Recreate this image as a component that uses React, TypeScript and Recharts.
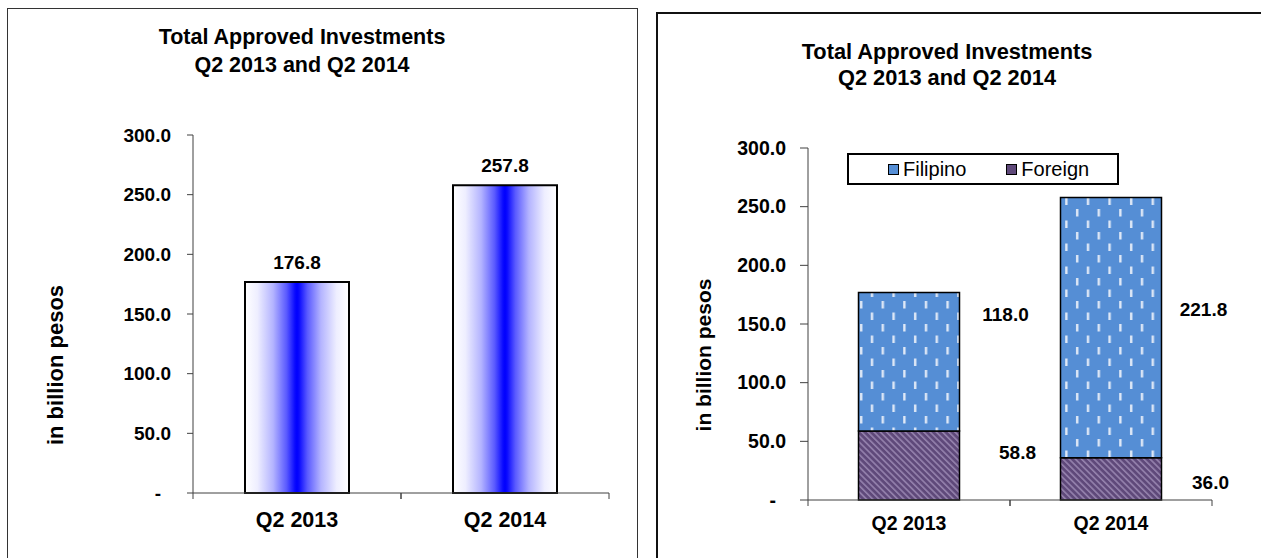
import React from 'react'
import { BarChart, Bar, XAxis, YAxis, LabelList, Legend, Label } from 'recharts'

// values (billion pesos)
const QUARTERS = ['Q2 2013', 'Q2 2014']
const TOTAL = [176.8, 257.8]
const FILIPINO = [118.0, 221.8]
const FOREIGN = [58.8, 36.0]
const Y_TICKS = [0, 50, 100, 150, 200, 250, 300]
const SERIES_NAMES = ['Filipino', 'Foreign']

const TITLE_1 = 'Total Approved Investments'
const TITLE_2 = 'Q2 2013 and Q2 2014'
const Y_TITLE = 'in billion pesos'

const FONT = 'Arial, "Liberation Sans", sans-serif'
const AXIS_COLOR = '#404040'
const FILIPINO_BLUE = '#558ed5'
const FOREIGN_PURPLE = '#5f497a'

const totalData = QUARTERS.map((q, i) => ({ quarter: q, total: TOTAL[i] }))
const splitData = QUARTERS.map((q, i) => ({
  quarter: q,
  filipino: FILIPINO[i],
  foreign: FOREIGN[i],
}))

const Y_AXIS_W = 100
const X_AXIS_H = 40

// left chart geometry
const L_W = 640
const L_H = 558
const L_MARGIN = { top: 135, right: 31, bottom: 25, left: 93 }
const L_HALF_BAND = (L_W - L_MARGIN.left - L_MARGIN.right - Y_AXIS_W) / QUARTERS.length / 2

// right chart geometry
const R_W = 621
const R_H = 558
const R_MARGIN = { top: 148, right: 49, bottom: 18, left: 68 }
const R_HALF_BAND = (R_W - R_MARGIN.left - R_MARGIN.right - Y_AXIS_W) / QUARTERS.length / 2

// manual nudges of the stacked data labels (Excel-style hand placement)
const FILIPINO_NUDGE = [
  { dx: 46, dy: 22 },
  { dx: 42, dy: 112 },
]
const FOREIGN_NUDGE = [
  { dx: 58, dy: 21 },
  { dx: 49, dy: 25 },
]

const fmt = (v: number) => Number(v).toFixed(1)

function yTick(fontSize: number) {
  return (p: any) => {
    const v = p.payload.value
    return (
      <text
        x={v === 0 ? p.x - 10 : p.x}
        y={p.y}
        dy="0.35em"
        textAnchor="end"
        fontFamily={FONT}
        fontWeight="bold"
        fontSize={fontSize}
        fill="#000"
      >
        {v === 0 ? '-' : fmt(v)}
      </text>
    )
  }
}

function xTick(halfBand: number, fontSize: number, dy: number) {
  return (p: any) => (
    <g>
      <line x1={p.x - halfBand} x2={p.x - halfBand} y1={p.y} y2={p.y + 6} stroke={AXIS_COLOR} />
      <line x1={p.x + halfBand} x2={p.x + halfBand} y1={p.y} y2={p.y + 6} stroke={AXIS_COLOR} />
      <text
        x={p.x}
        y={p.y + dy}
        dy="0.35em"
        textAnchor="middle"
        fontFamily={FONT}
        fontWeight="bold"
        fontSize={fontSize}
        fill="#000"
      >
        {p.payload.value}
      </text>
    </g>
  )
}

function axisTitle(dx: number, dy: number, fontSize: number) {
  return (props: any) => {
    const vb = props.viewBox || { x: 0, y: 0, height: 0 }
    const cx = vb.x + dx
    const cy = vb.y + vb.height / 2 + dy
    return (
      <text
        x={cx}
        y={cy}
        transform={`rotate(-90 ${cx} ${cy})`}
        textAnchor="middle"
        dominantBaseline="central"
        fontFamily={FONT}
        fontWeight="bold"
        fontSize={fontSize}
        fill="#000"
      >
        {Y_TITLE}
      </text>
    )
  }
}

function sideLabel(nudges: { dx: number; dy: number }[]) {
  return (props: any) => {
    const { x, y, width, value, index } = props
    const n = nudges[index] || { dx: 40, dy: 20 }
    return (
      <text
        x={Number(x) + Number(width) + n.dx}
        y={Number(y) + n.dy}
        textAnchor="middle"
        dominantBaseline="central"
        fontFamily={FONT}
        fontWeight="bold"
        fontSize={19}
        fill="#000"
      >
        {fmt(value)}
      </text>
    )
  }
}

function LegendBox() {
  const swatches = [FILIPINO_BLUE, FOREIGN_PURPLE]
  return (
    <div
      style={{
        boxSizing: 'border-box',
        width: 272,
        height: 32,
        border: '2px solid #000',
        background: '#fff',
        display: 'flex',
        alignItems: 'center',
        justifyContent: 'flex-start',
        gap: 40,
        fontFamily: FONT,
        fontSize: 20,
        color: '#000',
        paddingLeft: 39,
      }}
    >
      {SERIES_NAMES.map((name, i) => (
        <div key={name} style={{ display: 'flex', alignItems: 'center', gap: 4 }}>
          <span
            style={{
              display: 'inline-block',
              boxSizing: 'border-box',
              width: 11,
              height: 11,
              background: swatches[i],
              border: '1px solid #000',
            }}
          />
          <span>{name}</span>
        </div>
      ))}
    </div>
  )
}

function Title({ cx, top, size, lineHeight }: { cx: number; top: number; size: number; lineHeight: number }) {
  return (
    <div
      style={{
        position: 'absolute',
        left: cx - 200,
        top,
        width: 400,
        textAlign: 'center',
        fontFamily: FONT,
        fontWeight: 'bold',
        fontSize: size,
        lineHeight: `${lineHeight}px`,
        color: '#000',
      }}
    >
      <div>{TITLE_1}</div>
      <div>{TITLE_2}</div>
    </div>
  )
}

export default function App() {
  return (
    <div
      style={{
        position: 'absolute',
        left: 0,
        top: 0,
        width: 1261,
        height: 558,
        overflow: 'hidden',
        background: '#fff',
      }}
    >
      {/* panel frames */}
      <div
        style={{
          position: 'absolute',
          left: 7,
          top: 8,
          width: 631,
          height: 600,
          boxSizing: 'border-box',
          border: '1px solid #333',
        }}
      />
      <div
        style={{
          position: 'absolute',
          left: 656,
          top: 12,
          width: 700,
          height: 600,
          boxSizing: 'border-box',
          border: '2px solid #111',
        }}
      />

      <Title cx={302} top={23} size={21.5} lineHeight={28} />
      <Title cx={947} top={39} size={21.8} lineHeight={26} />

      {/* left: totals */}
      <div style={{ position: 'absolute', left: 0, top: 0 }}>
        <BarChart width={L_W} height={L_H} data={totalData} margin={L_MARGIN} barCategoryGap="25%">
          <defs>
            <linearGradient id="blueBand" x1="0" y1="0" x2="1" y2="0">
              <stop offset="0%" stopColor="#ffffff" />
              <stop offset="12%" stopColor="#eeeeff" />
              <stop offset="27%" stopColor="#b4b4ff" />
              <stop offset="40%" stopColor="#5a5aff" />
              <stop offset="48%" stopColor="#0a0aff" />
              <stop offset="50%" stopColor="#0000ff" />
              <stop offset="52%" stopColor="#0a0aff" />
              <stop offset="60%" stopColor="#5a5aff" />
              <stop offset="73%" stopColor="#b4b4ff" />
              <stop offset="88%" stopColor="#eeeeff" />
              <stop offset="100%" stopColor="#ffffff" />
            </linearGradient>
          </defs>
          <XAxis
            dataKey="quarter"
            height={X_AXIS_H}
            axisLine={{ stroke: AXIS_COLOR }}
            tickLine={false}
            tickSize={0}
            tickMargin={0}
            tick={xTick(L_HALF_BAND, 21.5, 26)}
            interval={0}
          />
          <YAxis
            width={Y_AXIS_W}
            domain={[0, 300]}
            ticks={Y_TICKS}
            interval={0}
            axisLine={{ stroke: AXIS_COLOR }}
            tickLine={{ stroke: AXIS_COLOR }}
            tickSize={6}
            tickMargin={16}
            tick={yTick(19)}
          >
            <Label content={axisTitle(-38, 51, 22)} />
          </YAxis>
          <Bar dataKey="total" fill="url(#blueBand)" stroke="#000" strokeWidth={2} isAnimationActive={false}>
            <LabelList
              dataKey="total"
              position="top"
              offset={13}
              formatter={(v: any) => fmt(v)}
              fontFamily={FONT}
              fontWeight="bold"
              fontSize={19}
              fill="#000"
            />
          </Bar>
        </BarChart>
      </div>

      {/* right: Filipino vs Foreign */}
      <div style={{ position: 'absolute', left: 640, top: 0 }}>
        <BarChart width={R_W} height={R_H} data={splitData} margin={R_MARGIN} barCategoryGap="25%">
          <defs>
            <pattern id="filipinoDashes" patternUnits="userSpaceOnUse" width={21.6} height={23}>
              <rect width={21.6} height={23} fill={FILIPINO_BLUE} />
              <rect x={4} y={2} width={2.4} height={7.5} fill="#e0e9f7" />
              <rect x={14.8} y={13.5} width={2.4} height={7.5} fill="#e0e9f7" />
            </pattern>
            <pattern
              id="foreignHatch"
              patternUnits="userSpaceOnUse"
              width={4.4}
              height={8}
              patternTransform="rotate(-45)"
            >
              <rect width={4.4} height={8} fill={FOREIGN_PURPLE} />
              <rect width={1.6} height={8} fill="#9582ad" />
            </pattern>
          </defs>
          <XAxis
            dataKey="quarter"
            height={X_AXIS_H}
            axisLine={{ stroke: AXIS_COLOR }}
            tickLine={false}
            tickSize={0}
            tickMargin={0}
            tick={xTick(R_HALF_BAND, 19.5, 23)}
            interval={0}
          />
          <YAxis
            width={Y_AXIS_W}
            domain={[0, 300]}
            ticks={Y_TICKS}
            interval={0}
            axisLine={{ stroke: AXIS_COLOR }}
            tickLine={{ stroke: AXIS_COLOR }}
            tickSize={8}
            tickMargin={14}
            tick={yTick(19.5)}
          >
            <Label content={axisTitle(-5, 31, 21)} />
          </YAxis>
          <Legend
            layout="horizontal"
            verticalAlign="middle"
            align="center"
            content={() => <LegendBox />}
            wrapperStyle={{ left: 207, top: 153, width: 272, height: 32 }}
          />
          <Bar
            dataKey="foreign"
            name={SERIES_NAMES[1]}
            stackId="inv"
            fill="url(#foreignHatch)"
            stroke="#000"
            strokeWidth={1.5}
            isAnimationActive={false}
          >
            <LabelList dataKey="foreign" content={sideLabel(FOREIGN_NUDGE)} />
          </Bar>
          <Bar
            dataKey="filipino"
            name={SERIES_NAMES[0]}
            stackId="inv"
            fill="url(#filipinoDashes)"
            stroke="#000"
            strokeWidth={1.5}
            isAnimationActive={false}
          >
            <LabelList dataKey="filipino" content={sideLabel(FILIPINO_NUDGE)} />
          </Bar>
        </BarChart>
      </div>
    </div>
  )
}
